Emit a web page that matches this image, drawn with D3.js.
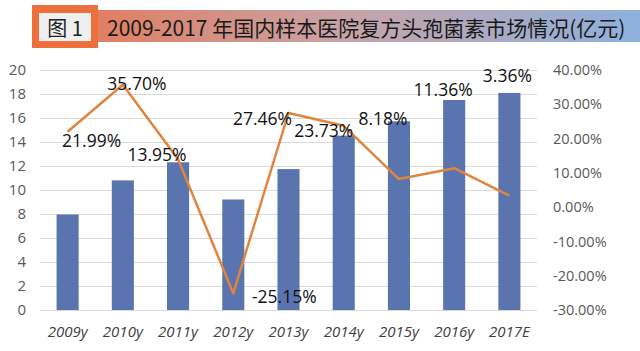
<!DOCTYPE html>
<html><head><meta charset="utf-8">
<script src="https://cdn.jsdelivr.net/npm/d3@7"></script>
<style>body{margin:0;background:#fff;} svg{display:block;}</style>
</head><body>
<svg id="c" width="640" height="351"></svg>
<script>
const categories = ["2009y","2010y","2011y","2012y","2013y","2014y","2015y","2016y","2017E"];
const marketValues = [7.96, 10.8, 12.31, 9.21, 11.74, 14.53, 15.72, 17.5, 18.09];
const growthRates = [21.99, 35.70, 13.95, -25.15, 27.46, 23.73, 8.18, 11.36, 3.36];
const leftTicks = [0,2,4,6,8,10,12,14,16,18,20];
const rightTicks = [-30,-20,-10,0,10,20,30,40];
const titleLabel = "图 1";
const titleText = "2009-2017 年国内样本医院复方头孢菌素市场情况(亿元)";
// label placement offsets (layout only)
const labelOffsets = [[24,8],[14,-2],[-21,-5],[51,3],[-26,5],[-20,4],[-16,-61],[-11,-79],[-2,-121]];

const svg = d3.select("#c");
const x = d3.scaleBand().domain(categories).range([40,537]).paddingInner(0.6).paddingOuter(0.3);
const yL = d3.scaleLinear().domain([0,20]).range([310,70]);
const yR = d3.scaleLinear().domain([-30,40]).range([310,70]);

// title
const defs = svg.append("defs");
const grad = defs.append("linearGradient").attr("id","tg").attr("x1","0").attr("x2","1").attr("y1","0").attr("y2","0");
grad.append("stop").attr("offset","0").attr("stop-color","#E07F62");
grad.append("stop").attr("offset","0.45").attr("stop-color","#C8A3A7");
grad.append("stop").attr("offset","1").attr("stop-color","#8DB1DE");
svg.append("rect").attr("x",96).attr("y",10).attr("width",544).attr("height",32).attr("fill","url(#tg)");
svg.append("rect").attr("x",32).attr("y",5).attr("width",66).attr("height",43).attr("fill","#EC6F3C");
svg.append("rect").attr("x",39).attr("y",13).attr("width",52).attr("height",28).attr("fill","#EFEFEF");
svg.append("text").attr("x",65).attr("y",27.5).attr("text-anchor","middle").attr("dominant-baseline","central")
  .attr("font-family","'Noto Sans CJK SC','Noto Sans'").attr("font-size",20).attr("fill","#222").text(titleLabel);
svg.append("text").attr("x",107).attr("y",27).attr("dominant-baseline","central")
  .attr("font-family","'Noto Sans CJK SC','Noto Sans'").attr("font-size",21).attr("fill","#1a1a1a").text(titleText);

// gridlines
svg.append("g").selectAll("line").data(leftTicks).join("line")
  .attr("x1",40).attr("x2",537).attr("y1",d=>Math.round(yL(d))+0.5).attr("y2",d=>Math.round(yL(d))+0.5)
  .attr("stroke","#D9D9D9").attr("stroke-width",1);

// left axis
const gl = svg.append("g").attr("transform","translate(26,0)")
  .call(d3.axisLeft(yL).tickValues(leftTicks).tickSize(0).tickPadding(0));
gl.select(".domain").remove();
gl.selectAll("text").attr("font-family","'Open Sans'").attr("font-size",15).attr("fill","#595959");

// right axis
const gr = svg.append("g").attr("transform","translate(553,0)")
  .call(d3.axisRight(yR).tickValues(rightTicks).tickSize(0).tickPadding(0).tickFormat(d=>d.toFixed(2)+"%"));
gr.select(".domain").remove();
gr.selectAll("text").attr("font-family","'Open Sans'").attr("font-size",14.5).attr("fill","#595959");

// x axis
const gx = svg.append("g").attr("transform","translate(0,326)")
  .call(d3.axisBottom(x).tickSize(0).tickPadding(0));
gx.select(".domain").remove();
gx.selectAll("text").attr("font-family","'Open Sans'").attr("font-style","italic").attr("font-size",15).attr("fill","#404040").attr("dy","0.71em");

// bars
svg.append("g").selectAll("rect").data(marketValues).join("rect")
  .attr("x",(d,i)=>x(categories[i])).attr("width",x.bandwidth())
  .attr("y",d=>yL(d)).attr("height",d=>yL(0)-yL(d)).attr("fill","#5A74B0");

// line
const line = d3.line().x((d,i)=>x(categories[i])+x.bandwidth()/2).y(d=>yR(d));
svg.append("path").datum(growthRates).attr("d",line).attr("fill","none")
  .attr("stroke","#E0843E").attr("stroke-width",2.5).attr("stroke-linejoin","round");

// labels
svg.append("g").selectAll("text").data(growthRates).join("text")
  .attr("x",(d,i)=>x(categories[i])+x.bandwidth()/2+labelOffsets[i][0])
  .attr("y",(d,i)=>yR(d)+labelOffsets[i][1])
  .attr("text-anchor","middle").attr("dominant-baseline","central")
  .attr("font-family","'Open Sans'").attr("font-size",17.5).attr("fill","#111")
  .text(d=>d.toFixed(2)+"%");
</script>
</body></html>
